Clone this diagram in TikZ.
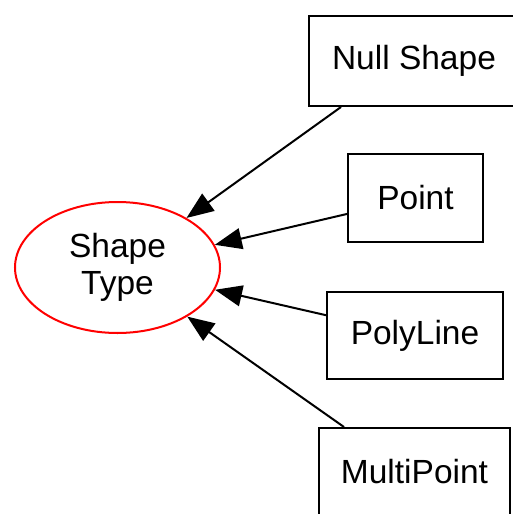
\documentclass[tikz,border=0pt]{standalone}
\usepackage{fontspec}
\setmainfont{Liberation Sans}
\usetikzlibrary{arrows.meta,shapes.geometric}
\begin{document}
\begin{tikzpicture}[x=1pt,y=-1pt,
  every node/.style={font=\fontsize{33.5}{37}\selectfont, inner sep=0pt},
  typebox/.style={draw=black, line width=2pt, rectangle, fill=white},
  rootoval/.style={draw=red, line width=2pt, ellipse, align=center,
                   minimum width=205pt, minimum height=131pt},
  link/.style={draw=black, line width=2pt,
               -{Triangle[length=27pt,width=21pt]}}]
  \useasboundingbox (0,0) rectangle (512,514);
  \fill[white] (0,0) rectangle (512,514);

  % root of the hierarchy
  \node[rootoval] (st) at (117.5,267.5) {Shape\\Type};

  % concrete shape kinds
  \node[typebox, minimum width=210pt, minimum height=90pt] (ns) at (414,61) {Null Shape};
  \node[typebox, minimum width=135pt, minimum height=88pt] (pt) at (415.5,198) {Point};
  \node[typebox, minimum width=176pt, minimum height=87pt] (pl) at (415,335.5) {PolyLine};
  \node[typebox, minimum width=191pt, minimum height=88pt] (mp) at (414.5,472) {MultiPoint};

  % edges into the root
  \draw[link] ([xshift=33pt]ns.south west) -- (st);
  \draw[link] (pt) -- (st);
  \draw[link] (pl) -- (st);
  \draw[link] ([xshift=26pt]mp.north west) -- (st);
\end{tikzpicture}
\end{document}
